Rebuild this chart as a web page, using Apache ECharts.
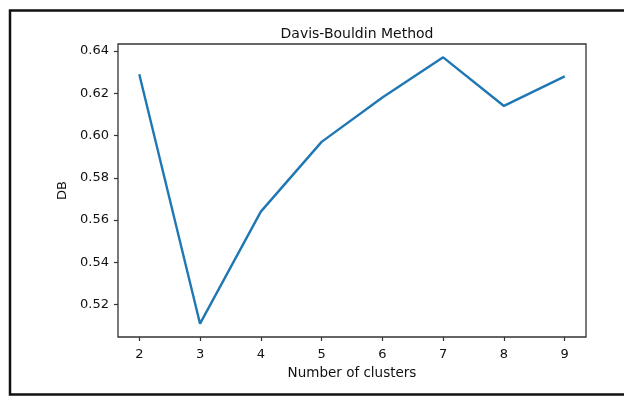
<!DOCTYPE html>
<html>
<head>
<meta charset="utf-8">
<script src="https://cdn.jsdelivr.net/npm/echarts@6/dist/echarts.min.js"></script>
<style>
  html, body { margin: 0; padding: 0; background: #fff; }
  #chart { width: 624px; height: 396px; }
</style>
</head>
<body>
<div id="chart"></div>
<script>
// Number of clusters tried and the Davis-Bouldin score for each
const clusters = [2, 3, 4, 5, 6, 7, 8, 9];
const dbScores = [0.629, 0.511, 0.564, 0.597, 0.618, 0.637, 0.614, 0.628];
const yTicks = [0.52, 0.54, 0.56, 0.58, 0.60, 0.62, 0.64];
const xTicks = [2, 3, 4, 5, 6, 7, 8, 9];

const FONT = 'DejaVu Sans';
const INK = '#111';

// 5% padding around the data range on both axes
const xPad = (clusters[clusters.length - 1] - clusters[0]) * 0.05;
const yMinV = Math.min(...dbScores), yMaxV = Math.max(...dbScores);
const yPad = (yMaxV - yMinV) * 0.05;

const chart = echarts.init(document.getElementById('chart'), null, { renderer: 'canvas' });

chart.setOption({
  backgroundColor: '#fff',
  animation: false,
  title: {
    text: 'Davis-Bouldin Method',
    left: 352, top: 22, textAlign: 'center',
    textStyle: { fontFamily: FONT, fontSize: 14, fontWeight: 'normal', color: INK }
  },
  grid: {
    left: 118, right: 38, top: 44, bottom: 59,
    show: true, borderColor: '#333', borderWidth: 1.3, backgroundColor: '#fff'
  },
  xAxis: {
    type: 'value',
    min: clusters[0] - xPad,
    max: clusters[clusters.length - 1] + xPad,
    name: 'Number of clusters',
    nameLocation: 'middle',
    nameGap: 29,
    nameTextStyle: { fontFamily: FONT, fontSize: 13.5, color: INK },
    axisLine: { show: false },
    splitLine: { show: false },
    axisTick: { show: true, length: 4, customValues: xTicks, lineStyle: { color: '#333', width: 1.2 } },
    axisLabel: {
      customValues: xTicks, margin: 11,
      fontFamily: FONT, fontSize: 13, color: INK
    }
  },
  yAxis: {
    type: 'value',
    min: yMinV - yPad,
    max: yMaxV + yPad,
    name: 'DB',
    nameLocation: 'middle',
    nameGap: 42,
    nameRotate: 90,
    nameTextStyle: { fontFamily: FONT, fontSize: 13, color: INK },
    axisLine: { show: false },
    splitLine: { show: false },
    axisTick: { show: true, length: 4, customValues: yTicks, lineStyle: { color: '#333', width: 1.2 } },
    axisLabel: {
      customValues: yTicks, margin: 9,
      fontFamily: FONT, fontSize: 13, color: INK,
      formatter: v => v.toFixed(2)
    }
  },
  series: [{
    type: 'line',
    data: clusters.map((c, i) => [c, dbScores[i]]),
    showSymbol: false,
    lineStyle: { color: '#1f77b4', width: 2.4 },
    itemStyle: { color: '#1f77b4' }
  }],
  graphic: [{
    // outer border around the figure (open on the right edge)
    type: 'polyline',
    shape: { points: [[630, 10.5], [10, 10.5], [10, 394.5], [630, 394.5]] },
    style: { stroke: '#111', lineWidth: 2.5, fill: null },
    silent: true
  }]
});
</script>
</body>
</html>
